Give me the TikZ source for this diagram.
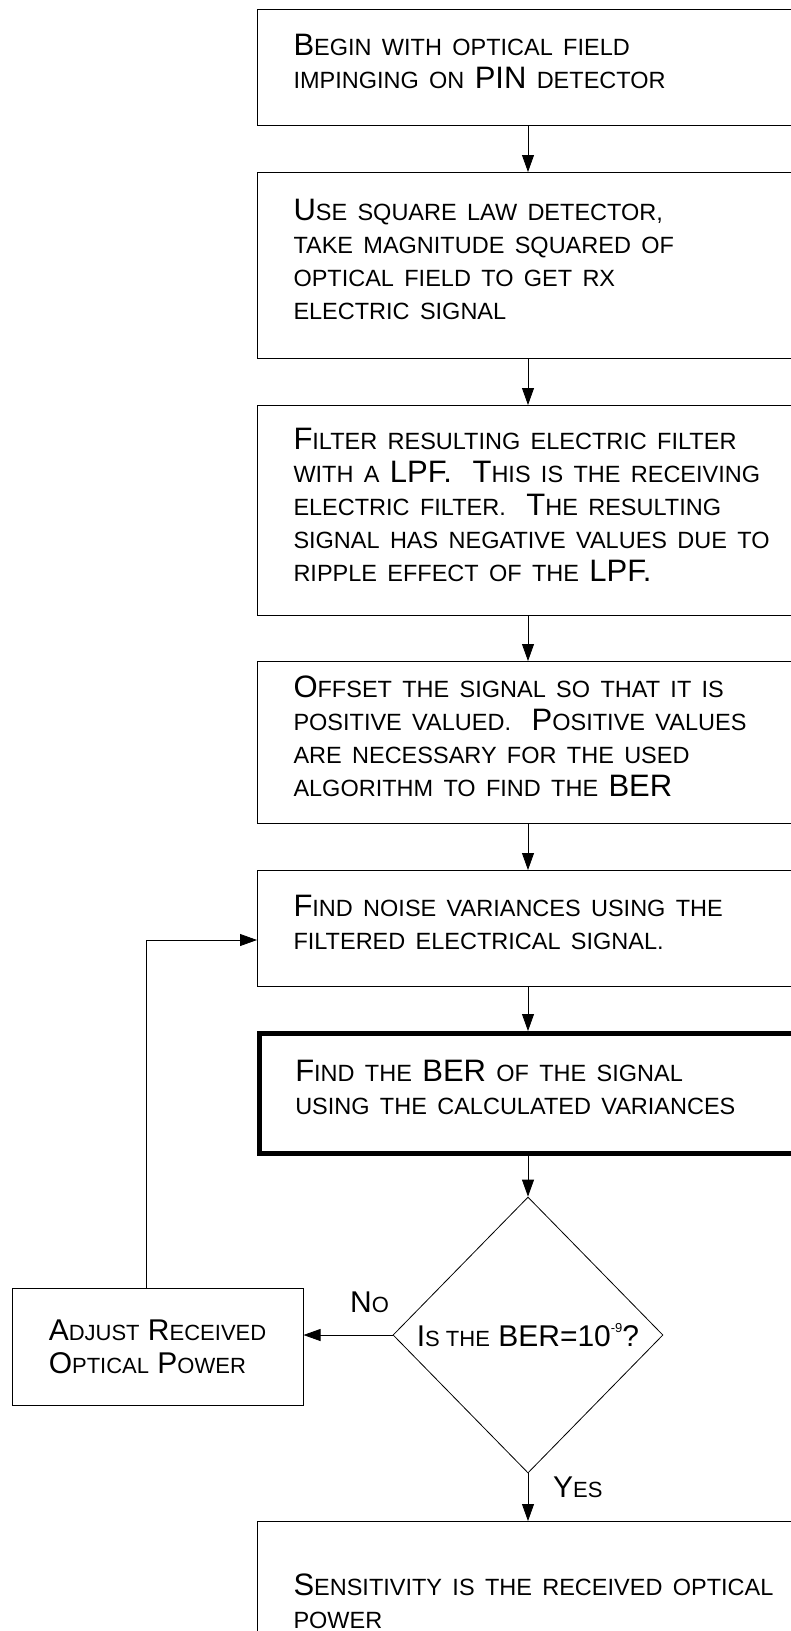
\documentclass[tikz,border=0pt]{standalone}
\usepackage{fontspec}
\setmainfont{Liberation Sans}
\usetikzlibrary{positioning,shapes.geometric,arrows.meta}

% small capitals made by hand
\newcommand{\sk}[1]{{\fontsize{23.5}{33}\selectfont\MakeUppercase{#1}}}

\tikzset{
  stepbox/.style={draw,line width=1pt,rectangle,anchor=north west,minimum width=600pt,
    text width=528pt,align=left,inner sep=0pt,
    execute at end node={\rule[-12pt]{0pt}{12pt}}},
  sidebox/.style={draw,line width=1pt,rectangle,minimum width=291pt,minimum height=117pt,
    align=left,inner sep=0pt,font=\fontsize{30}{33}\selectfont},
  decision/.style={draw,line width=0.8pt,diamond,minimum width=270pt,minimum height=276pt,
    inner sep=0pt,font=\fontsize{30}{33}\selectfont},
  arr/.style={line width=0.8pt,-{Triangle[length=17pt,width=12pt]}},
  tag/.style={anchor=base west,inner sep=0pt,font=\fontsize{30}{33}\selectfont}
}

\begin{document}
\begin{tikzpicture}[x=1pt,y=-1pt,font=\fontsize{31}{33}\selectfont]
   \useasboundingbox (0,0) rectangle (791,1631);
   \clip (0,0) rectangle (791,1631);

   \node[stepbox,minimum height=116pt] (b1) at (257,9)
      {B\sk{egin with optical field}\\\sk{impinging on} PIN \sk{detector}};
   \node[stepbox,minimum height=186pt] (b2) at (257,172)
      {U\sk{se square law detector,}\\\sk{take magnitude squared of}\\
       \sk{optical field to get rx}\\\sk{electric signal}};
   \node[stepbox,minimum height=210pt] (b3) at (257,405)
      {F\sk{ilter resulting electric filter}\\\sk{with a} LPF.\ \ T\sk{his is the receiving}\\
       \sk{electric filter.}\ \ T\sk{he resulting}\\\sk{signal has negative values due to}\\
       \sk{ripple effect of the} LPF.};
   \node[stepbox,minimum height=162pt] (b4) at (257,661)
      {O\sk{ffset the signal so that it is}\\\sk{positive valued.}\ \ P\sk{ositive values}\\
       \sk{are necessary for the used}\\\sk{algorithm to find the} BER};
   \node[stepbox,minimum height=116pt] (b5) at (257,870)
      {F\sk{ind noise variances using the}\\\sk{filtered electrical signal.}};
   \node[stepbox,line width=4.5pt,minimum height=120pt] (b6) at (257,1031)
      {F\sk{ind the} BER \sk{of the signal}\\\sk{using the calculated variances}};
   \node[decision] (dia) at (528,1335)
      {I{\fontsize{22}{33}\selectfont S THE} BER=10\raisebox{0.45em}{\fontsize{13}{13}\selectfont -9}?};
   \node[sidebox] (adj) at (157.5,1346.5)
      {A{\fontsize{22}{33}\selectfont DJUST} R{\fontsize{22}{33}\selectfont ECEIVED}\\
       O{\fontsize{22}{33}\selectfont PTICAL} P{\fontsize{22}{33}\selectfont OWER}};
   \node[stepbox,minimum height=172pt] (b7) at (257,1521)
      {S\sk{ensitivity is the received optical}\\\sk{power}};

   \node[tag] (no)  at (350,1312) {N{\fontsize{22}{33}\selectfont O}};
   \node[tag] (yes) at (553,1497) {Y{\fontsize{22}{33}\selectfont ES}};

   \coordinate (spine) at (528,0);
   \coordinate (fb) at (146,940);

   \foreach \a/\b in {b1/b2,b2/b3,b3/b4,b4/b5,b5/b6}
      \draw[arr] (\a.south -| spine) -- (\b.north -| spine);
   \draw[arr] (b6.south -| spine) -- (dia.north);
   \draw[arr] (dia.south) -- (b7.north -| spine);
   \draw[arr] (dia.west) -- (dia.west -| adj.east);
   \draw[arr] (adj.north -| fb) -- (fb) -- (fb -| b5.west);
\end{tikzpicture}
\end{document}
